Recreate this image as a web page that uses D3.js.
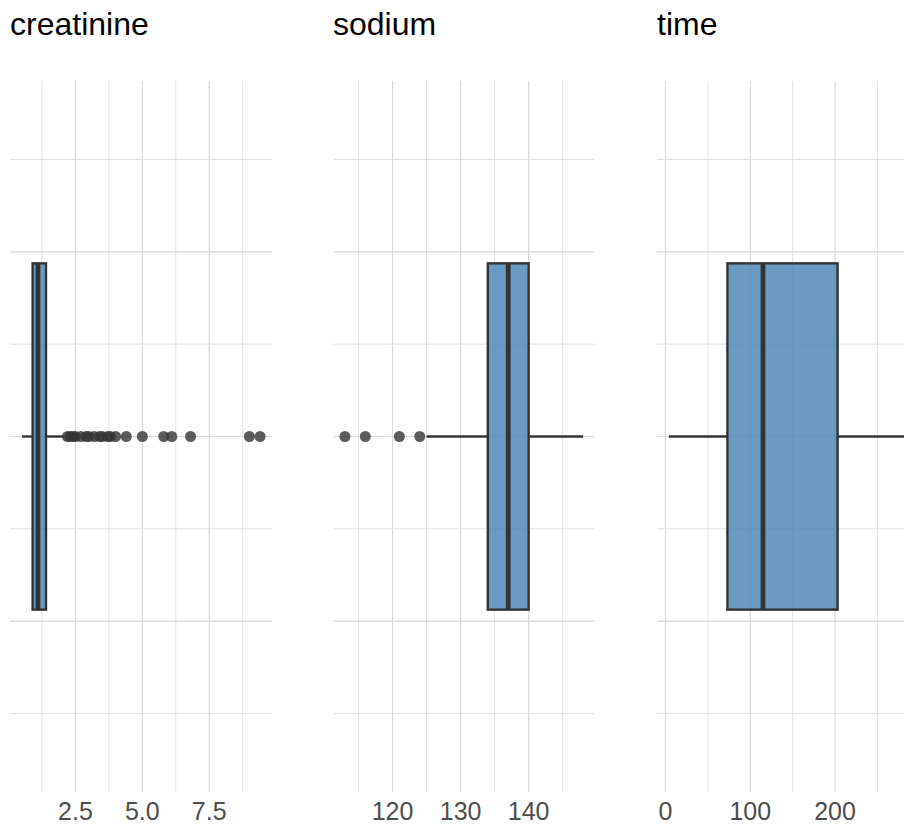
<!DOCTYPE html>
<html>
<head>
<meta charset="utf-8">
<script src="https://cdn.jsdelivr.net/npm/d3@7"></script>
<style>
  body { margin: 0; background: #fff; }
  svg { display: block; font-family: "Liberation Sans", Arial, sans-serif; }
</style>
</head>
<body>
<svg></svg>
<script>
// panel names
const panels = ["creatinine", "sodium", "time"];

// box stats: [lower whisker, q1, median, q3, upper whisker]
const creatinineBox = [0.5, 0.9, 1.1, 1.4, 2.1];
const sodiumBox = [125, 134, 137, 140, 148];
const timeBox = [4, 73, 115, 203, 285];

// outliers
const creatinineOut = [2.2, 2.3, 2.4, 2.5, 2.7, 2.9, 3.0, 3.2, 3.4, 3.5, 3.7, 3.8, 4.0, 4.4, 5.0, 5.8, 6.1, 6.8, 9.0, 9.4];
const sodiumOut = [113, 116, 121, 124];
const timeOut = [];

// ticks
const creatinineTicks = [2.5, 5.0, 7.5];
const creatinineMinor = [1.25, 3.75, 6.25, 8.75];
const sodiumTicks = [120, 130, 140];
const sodiumMinor = [115, 125, 135, 145];
const timeTicks = [0, 100, 200];
const timeMinor = [50, 150, 250];

const yMajor = [-0.2, 0, 0.2];
const yMinor = [-0.3, -0.1, 0.1, 0.3];

const boxes = [creatinineBox, sodiumBox, timeBox];
const outs = [creatinineOut, sodiumOut, timeOut];
const ticks = [creatinineTicks, sodiumTicks, timeTicks];
const minors = [creatinineMinor, sodiumMinor, timeMinor];
const tickFmt = [d3.format(".1f"), d3.format("d"), d3.format("d")];

const W = 904, H = 825;
const svg = d3.select("svg").attr("width", W).attr("height", H);

const panelLeft = [10, 333, 657];
const panelW = 262;
const panelTop = 81, panelBottom = 792;

const y = d3.scaleLinear().domain([0.385, -0.385]).range([panelTop, panelBottom]);
const halfBox = 0.1875;

panels.forEach((name, i) => {
  const b = boxes[i], o = outs[i];
  const lo = d3.min([b[0], ...o]), hi = d3.max([b[4], ...o]);
  const pad = (hi - lo) * 0.05;
  const x = d3.scaleLinear()
    .domain([lo - pad, hi + pad])
    .range([panelLeft[i], panelLeft[i] + panelW]);

  const g = svg.append("g");

  // title
  g.append("text")
    .attr("x", panelLeft[i])
    .attr("y", 35)
    .attr("font-size", 32)
    .attr("fill", "#000")
    .text(name);

  // grid
  const grid = g.append("g");
  grid.selectAll(".vmin").data(minors[i]).join("line")
    .attr("x1", d => x(d)).attr("x2", d => x(d))
    .attr("y1", panelTop).attr("y2", panelBottom)
    .attr("stroke", "#e3e3e3").attr("stroke-width", 1);
  grid.selectAll(".vmaj").data(ticks[i]).join("line")
    .attr("x1", d => x(d)).attr("x2", d => x(d))
    .attr("y1", panelTop).attr("y2", panelBottom)
    .attr("stroke", "#d9d9d9").attr("stroke-width", 1.2);
  grid.selectAll(".hmin").data(yMinor).join("line")
    .attr("x1", panelLeft[i]).attr("x2", panelLeft[i] + panelW)
    .attr("y1", d => y(d)).attr("y2", d => y(d))
    .attr("stroke", "#e0e0e0").attr("stroke-width", 1);
  grid.selectAll(".hmaj").data(yMajor).join("line")
    .attr("x1", panelLeft[i]).attr("x2", panelLeft[i] + panelW)
    .attr("y1", d => y(d)).attr("y2", d => y(d))
    .attr("stroke", "#d9d9d9").attr("stroke-width", 1.2);

  // tick labels
  g.selectAll(".tl").data(ticks[i]).join("text")
    .attr("x", d => x(d))
    .attr("y", 820)
    .attr("text-anchor", "middle")
    .attr("font-size", 25)
    .attr("fill", "#4d4d4d")
    .text(d => tickFmt[i](d));

  // whiskers
  g.append("line")
    .attr("x1", x(b[0])).attr("x2", x(b[1]))
    .attr("y1", y(0)).attr("y2", y(0))
    .attr("stroke", "#333").attr("stroke-width", 2.4);
  g.append("line")
    .attr("x1", x(b[3])).attr("x2", x(b[4]))
    .attr("y1", y(0)).attr("y2", y(0))
    .attr("stroke", "#333").attr("stroke-width", 2.4);

  // box
  g.append("rect")
    .attr("x", x(b[1]))
    .attr("width", x(b[3]) - x(b[1]))
    .attr("y", y(halfBox))
    .attr("height", y(-halfBox) - y(halfBox))
    .attr("fill", "steelblue").attr("fill-opacity", 0.8)
    .attr("stroke", "#333").attr("stroke-width", 2.4);

  // median
  g.append("line")
    .attr("x1", x(b[2])).attr("x2", x(b[2]))
    .attr("y1", y(halfBox)).attr("y2", y(-halfBox))
    .attr("stroke", "#333").attr("stroke-width", 4.8);

  // outliers
  g.selectAll(".pt").data(o).join("circle")
    .attr("cx", d => x(d))
    .attr("cy", y(0))
    .attr("r", 5.5)
    .attr("fill", "#333")
    .attr("fill-opacity", 0.8);
});
</script>
</body>
</html>
